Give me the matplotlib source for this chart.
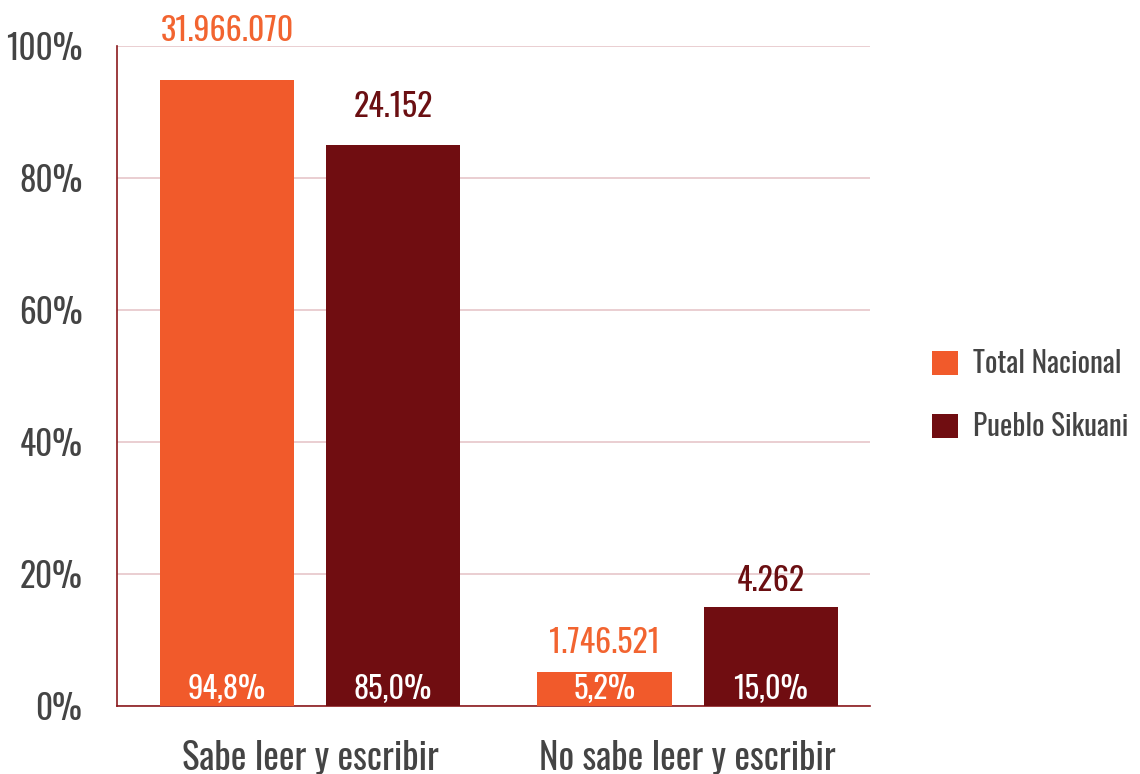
import matplotlib.pyplot as plt
from matplotlib import font_manager
import numpy as np

# data
categories = ['Sabe leer y escribir', 'No sabe leer y escribir']
series = ['Total Nacional', 'Pueblo Sikuani']
pct_nacional = [94.8, 5.2]
pct_sikuani = [85.0, 15.0]
count_nacional = ['31.966.070', '1.746.521']
count_sikuani = ['24.152', '4.262']
yticks = [0, 20, 40, 60, 80, 100]

# condensed font like the original if it is there
names = {f.name for f in font_manager.fontManager.ttflist}
fam = 'Oswald' if 'Oswald' in names else 'Roboto'
plt.rcParams['font.family'] = [fam, 'DejaVu Sans']
plt.rcParams['font.weight'] = 300

orange = '#F15A2B'
darkred = '#700D11'
gray = '#444444'

fig = plt.figure(figsize=(11.4, 7.74), dpi=100)
ax = fig.add_axes([117 / 1140, 68 / 774, 753 / 1140, 660 / 774])

x = np.arange(len(categories))
w = 0.355
off = 0.22
b1 = ax.bar(x - off, pct_nacional, w, color=orange, zorder=3)
b2 = ax.bar(x + off, pct_sikuani, w, color=darkred, zorder=3)

ax.set_xlim(-0.511, 1.483)
ax.set_ylim(0, 100)
ax.set_yticks(yticks)
ax.set_yticklabels([f'{t}%' for t in yticks], fontsize=24, color=gray)
ax.tick_params(axis='y', length=0, pad=25)
ax.set_xticks(x)
ax.set_xticklabels(categories, fontsize=26.5, color=gray)
ax.tick_params(axis='x', length=0, pad=24.5)

ax.grid(axis='y', color='#E6C6CA', linewidth=1.2, zorder=0)
for s in ['top', 'right']:
    ax.spines[s].set_visible(False)
ax.spines['left'].set_color('#8B1A1E')
ax.spines['bottom'].set_color('#8B1A1E')
ax.spines['left'].set_linewidth(1.2)
ax.spines['bottom'].set_linewidth(1.2)

# label gaps above the bars, in points
gaps = [[24, 9], [15.5, 7.5]]
for k, (bars, counts, col, vals) in enumerate([(b1, count_nacional, '#F26430', pct_nacional),
                                               (b2, count_sikuani, '#6B0F12', pct_sikuani)]):
    for j, (rect, c, v) in enumerate(zip(bars, counts, vals)):
        cx = rect.get_x() + rect.get_width() / 2
        ax.annotate(c, (cx, rect.get_height()), xytext=(0, gaps[k][j]), textcoords='offset points',
                    ha='center', va='bottom', fontsize=23, color=col, annotation_clip=False)
        ax.annotate(f'{v:.1f}%'.replace('.', ','), (cx, 0), xytext=(0, 1),
                    textcoords='offset points', ha='center', va='bottom',
                    fontsize=22, color='white', zorder=5)

leg = fig.legend([b1, b2], series, loc='center left', bbox_to_anchor=(932 / 1140, 1 - 395 / 774),
                 frameon=False, fontsize=21, handlelength=0.9, handleheight=0.9,
                 labelspacing=1.15, handletextpad=0.5, borderpad=0, borderaxespad=0,
                 labelcolor=gray)

fig.savefig('out.png', dpi=100)
